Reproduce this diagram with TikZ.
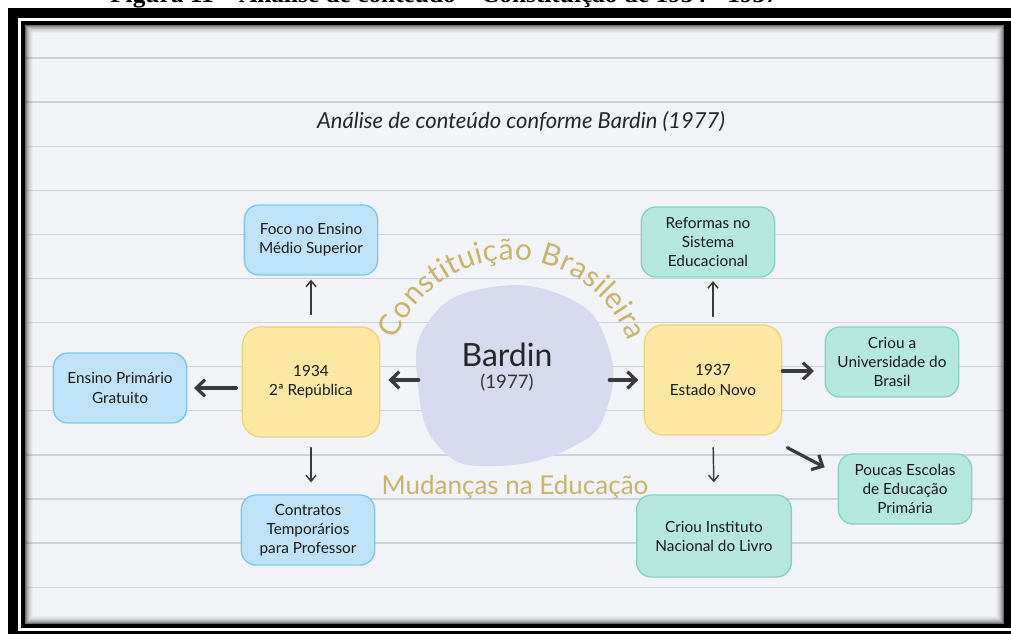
\documentclass[tikz,border=0pt]{standalone}
\usepackage{fontspec}
\setmainfont{Lato}
\newfontfamily\capfont{Liberation Serif}
\usetikzlibrary{arrows.meta,calc,decorations.text}

\definecolor{paper}{HTML}{F1F3F6}
\definecolor{ruled}{HTML}{CAD2DE}
\definecolor{bluefill}{HTML}{BEE3F8}
\definecolor{blueline}{HTML}{7CC6EE}
\definecolor{yelfill}{HTML}{FDE8A2}
\definecolor{yelline}{HTML}{EFD27A}
\definecolor{grnfill}{HTML}{B4E7DD}
\definecolor{grnline}{HTML}{86D2C2}
\definecolor{blobfill}{HTML}{D7DAEF}
\definecolor{goldtext}{HTML}{C9B46C}
\definecolor{ink}{HTML}{3A3A3A}

\tikzset{
  box/.style={rounded corners=11pt, line width=1pt, align=center, inner sep=0pt,
    font=\fontsize{11.5}{14.3}\selectfont, text=black!90},
  bluebox/.style={box, draw=blueline, fill=bluefill, minimum width=100pt, minimum height=52.5pt},
  grnbox/.style={box, draw=grnline, fill=grnfill, minimum width=100pt, minimum height=52.5pt},
  yelbox/.style={box, rounded corners=14pt, draw=yelline, fill=yelfill, minimum width=103pt, minimum height=82.5pt},
  thickarr/.style={draw=ink, line width=2.4pt, line cap=round, -{Straight Barb[length=6.5pt,width=12.5pt]}},
  thinarr/.style={draw=ink, line width=1.1pt, line cap=round, -{Straight Barb[length=4.5pt,width=7.5pt]}},
}

\begin{document}
\begin{tikzpicture}[x=0.75pt,y=-0.75pt]
  \useasboundingbox (0,0) rectangle (1011,634);
  \clip (0,0) rectangle (1011,634);
  % frame
  \fill[white] (0,0) rectangle (1011,634);
  \node[font=\capfont\bfseries\fontsize{19}{19}\selectfont, anchor=base west, inner sep=0pt] (caption) at (110,3)
    {Figura 11 – Análise de conteúdo – Constituição de 1934 - 1937};
  \fill[black] (8,8) rectangle (1011,634);
  \fill[white] (18,18) rectangle (1011,631);
  \fill[black] (21,21) rectangle (1011,628);
  \fill[paper] (25,25) rectangle (1004,624);
  % ruled lines
  \foreach \k in {0,...,12} {
    \draw[ruled, line width=1pt] (25,58+44.1*\k) -- (1004,58+44.1*\k);
  }
  % shadow inside the frame
  \foreach \i/\o in {1/0.55,2/0.4,3/0.3,4/0.22,5/0.15,6/0.1,7/0.06,8/0.03} {
    \draw[black, opacity=\o, line width=0.75pt] (24.5+\i,24.5+\i) rectangle (1004.5-\i,624.5-\i);
  }

  \node[font=\itshape\fontsize{16.5}{16.5}\selectfont, text=black!85] (title) at (521,122)
    {Análise de conteúdo conforme Bardin (1977)};

  % centre blob
  \fill[blobfill] plot[smooth cycle, tension=0.8] coordinates
    {(418,385) (428,322) (486,288) (566,297) (607,343) (607,408) (572,447) (495,466) (440,448)};
  \node[minimum width=142.5pt, minimum height=120pt, inner sep=0pt] (bardin) at (514,380) {};
  \node[font=\fontsize{24}{24}\selectfont, text=black!85] (bardinname) at (507,355) {Bardin};
  \node[font=\fontsize{14}{14}\selectfont, text=black!80] (bardinyear) at (507,383) {(1977)};

  \path[decorate, decoration={text along path, text align={fit to path},
      text={|\fontsize{22.5}{22.5}\selectfont\color{goldtext}|Constituição Brasileira}}]
    (512,384) ++(201:124) arc[start angle=201, end angle=340, radius=124];
  \node[font=\fontsize{19.5}{19.5}\selectfont, text=goldtext] (mudancas) at (515,487) {Mudanças na Educação};

  % 1934
  \node[yelbox] (rep34) at (311,382) {1934\\2ª República};
  \node[bluebox] (foco) at (311,240) {Foco no Ensino\\Médio Superior};
  \node[bluebox] (primario) at (120,388) {Ensino Primário\\Gratuito};
  \node[bluebox] (contratos) at (308,530) {Contratos\\Temporários\\para Professor};

  % 1937
  \node[yelbox] (novo37) at (713,380) {1937\\Estado Novo};
  \node[grnbox] (reformas) at (708,242) {Reformas no\\Sistema\\Educacional};
  \node[grnbox] (univ) at (892,362) {Criou a\\Universidade do\\Brasil};
  \node[grnbox] (poucas) at (905,489) {Poucas Escolas\\de Educação\\Primária};
  \node[grnbox, minimum width=116pt, minimum height=61.5pt] (livro) at (714,536) {Criou Instituto\\Nacional do Livro};

  % arrows
  \draw[thickarr, shorten >=6pt] (bardin.west) -- (bardin.west -| rep34.east);
  \draw[thickarr, shorten >=4pt] (bardin.east) -- (novo37.west);
  \draw[thickarr, shorten <=4pt, shorten >=5pt] (rep34.west |- primario.east) -- (primario.east);
  \draw[thinarr, shorten <=9pt, shorten >=3pt] (rep34.north) -- (rep34.north |- foco.south);
  \draw[thinarr, shorten <=7.5pt, shorten >=9pt] (rep34.south) -- (rep34.south |- contratos.north);
  \draw[thinarr, shorten <=6pt, shorten >=2.5pt] (novo37.north) -- (novo37.north |- reformas.south);
  \draw[thinarr, shorten <=9pt, shorten >=9pt] (novo37.south) -- (livro.north);
  \draw[thickarr] ([yshift=6.75pt]novo37.east) -- ([xshift=-8pt,yshift=-6.75pt]univ.west);
  \draw[thickarr] ($(novo37.south east)+(5,12)$) -- ($(poucas.north west)+(-13,14)$);
\end{tikzpicture}
\end{document}
